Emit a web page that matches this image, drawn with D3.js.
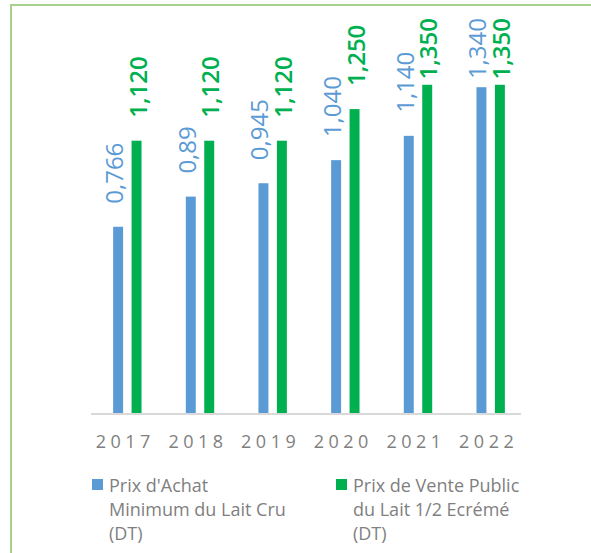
<!DOCTYPE html>
<html>
<head>
<meta charset="utf-8">
<script src="https://cdn.jsdelivr.net/npm/d3@7"></script>
<style>
  body { margin: 0; background: #fff; }
  svg { display: block; font-family: "Open Sans", sans-serif; }
</style>
</head>
<body>
<div id="chart"></div>
<script>
// données
const annees = ["2017", "2018", "2019", "2020", "2021", "2022"];
const prixAchat = [0.766, 0.89, 0.945, 1.040, 1.140, 1.340];
const prixVente = [1.120, 1.120, 1.120, 1.250, 1.350, 1.350];
const etiquettesAchat = ["0,766", "0,89", "0,945", "1,040", "1,140", "1,340"];
const etiquettesVente = ["1,120", "1,120", "1,120", "1,250", "1,350", "1,350"];
const legendeAchat = ["Prix d'Achat", "Minimum du Lait Cru", "(DT)"];
const legendeVente = ["Prix de Vente Public", "du Lait 1/2 Ecrémé", "(DT)"];

const largeur = 591, hauteur = 553;
const bleu = "#5b9bd5", vert = "#00b050", gris = "#7f7f7f";

const svg = d3.select("#chart").append("svg")
  .attr("width", largeur)
  .attr("height", hauteur);

// cadre vert clair (haut et gauche)
svg.append("path")
  .attr("d", `M11,${hauteur} V5 H${largeur}`)
  .attr("fill", "none")
  .attr("stroke", "#a9d18e")
  .attr("stroke-width", 2);

const x = d3.scaleBand()
  .domain(annees)
  .range([91, 527]);

const xSerie = d3.scaleBand()
  .domain(["achat", "vente"])
  .range([0, x.bandwidth()])
  .paddingInner(0.46)
  .paddingOuter(1.2);

const y = d3.scaleLinear()
  .domain([0, 1.6])
  .range([413, 24]);

const series = [
  { cle: "achat", valeurs: prixAchat, etiquettes: etiquettesAchat, couleur: bleu, gras: "normal", decal: 5 },
  { cle: "vente", valeurs: prixVente, etiquettes: etiquettesVente, couleur: vert, gras: "600", decal: 10 }
];

// barres + étiquettes
series.forEach(s => {
  const donnees = annees.map((a, i) => ({ annee: a, v: s.valeurs[i], txt: s.etiquettes[i] }));

  svg.append("g").selectAll("rect")
    .data(donnees)
    .join("rect")
    .attr("x", d => x(d.annee) + xSerie(s.cle))
    .attr("y", d => y(d.v))
    .attr("width", xSerie.bandwidth())
    .attr("height", d => y(0) - y(d.v))
    .attr("fill", s.couleur);

  svg.append("g").selectAll("text")
    .data(donnees)
    .join("text")
    .text(d => d.txt)
    .style("font-size", "24px")
    .style("font-weight", s.gras)
    .attr("fill", s.couleur)
    .each(function(d) {
      const len = this.getComputedTextLength();
      const cx = x(d.annee) + xSerie(s.cle) + xSerie.bandwidth() / 2 + s.decal;
      const yy = Math.max(y(d.v) - 23, 18 + len);
      d3.select(this).attr("transform", `translate(${cx},${yy}) rotate(-90)`);
    });
});

// axe horizontal
svg.append("line")
  .attr("x1", x.range()[0])
  .attr("x2", x.range()[1] - 6)
  .attr("y1", y(0) + 1)
  .attr("y2", y(0) + 1)
  .attr("stroke", "#d9d9d9")
  .attr("stroke-width", 2);

svg.append("g").selectAll("text")
  .data(annees)
  .join("text")
  .attr("x", d => x(d) + x.bandwidth() / 2 - 2)
  .attr("y", 448)
  .attr("text-anchor", "middle")
  .style("font-size", "18px")
  .style("letter-spacing", "4.5px")
  .attr("fill", gris)
  .text(d => d);

// légende
const legendes = [
  { lignes: legendeAchat, couleur: bleu, x: 92 },
  { lignes: legendeVente, couleur: vert, x: 336 }
];
legendes.forEach(l => {
  const g = svg.append("g").attr("transform", `translate(${l.x},479)`);
  g.append("rect")
    .attr("width", 11).attr("height", 11)
    .attr("y", 0)
    .attr("fill", l.couleur);
  g.selectAll("text")
    .data(l.lignes)
    .join("text")
    .attr("x", 17)
    .attr("y", (d, i) => 13 + i * 24)
    .style("font-size", "18px")
    .attr("fill", gris)
    .text(d => d);
});
</script>
</body>
</html>
